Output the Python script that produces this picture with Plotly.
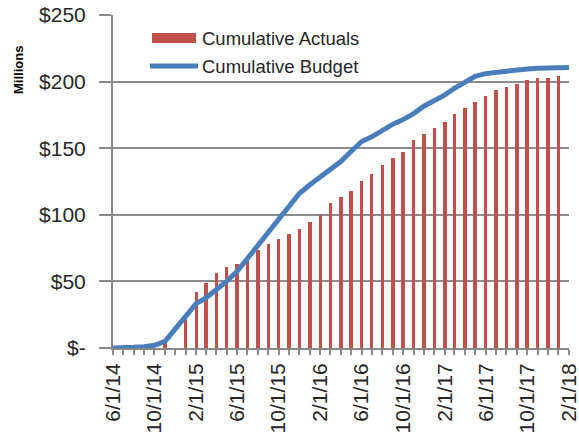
import plotly.graph_objects as go

months = ["2014-06-01","2014-07-01","2014-08-01","2014-09-01","2014-10-01","2014-11-01","2014-12-01",
          "2015-01-01","2015-02-01","2015-03-01","2015-04-01","2015-05-01","2015-06-01","2015-07-01",
          "2015-08-01","2015-09-01","2015-10-01","2015-11-01","2015-12-01","2016-01-01","2016-02-01",
          "2016-03-01","2016-04-01","2016-05-01","2016-06-01","2016-07-01","2016-08-01","2016-09-01",
          "2016-10-01","2016-11-01","2016-12-01","2017-01-01","2017-02-01","2017-03-01","2017-04-01",
          "2017-05-01","2017-06-01","2017-07-01","2017-08-01","2017-09-01","2017-10-01","2017-11-01",
          "2017-12-01","2018-01-01","2018-02-01"]

actuals = [None, None, None, None, None, 4, None,
           21.5, 42, 48.5, 56, 61, 63, 69,
           73.5, 78, 82, 85.5, 89.5, 94.5, 100,
           108.5, 113.5, 117.5, 125.5, 131, 137.5, 142.5,
           147, 156, 160.5, 165.5, 169.5, 176, 180,
           185, 189.5, 193.5, 196, 198.5, 201, 203,
           203, 204, None]

budget = [0, 0, 0.5, 1, 2, 5, 14.5,
          25, 33.5, 37.5, 43.5, 50, 57.5, 67,
          76, 86, 96, 106, 116, 122.5, 128.5,
          134, 140, 147.5, 155, 158.5, 163.5, 168,
          171.5, 176, 181.5, 185.5, 190, 195, 200,
          204, 206, 207, 208, 208.7, 209.5, 210,
          210.2, 210.7, 210.5]

x_tick_dates = months[::4]
x_tick_labels = ["6/1/14", "10/1/14", "2/1/15", "6/1/15", "10/1/15", "2/1/16",
                 "6/1/16", "10/1/16", "2/1/17", "6/1/17", "10/1/17", "2/1/18"]
y_ticks = [0, 50, 100, 150, 200, 250]
y_labels = ["$-", "$50", "$100", "$150", "$200", "$250"]

legend_names = ["Cumulative Actuals", "Cumulative Budget"]
bar_color = "#C0504D"
line_color = "#4A7EBB"

font_fam = "Liberation Sans, Arial, sans-serif"

fig = go.Figure()
fig.add_trace(go.Bar(
    x=months, y=actuals, name=legend_names[0],
    marker=dict(color=bar_color, line=dict(width=0)),
    width=0.33 * 30.4 * 86400000, showlegend=False,
))
fig.add_trace(go.Scatter(
    x=months, y=budget, name=legend_names[1], mode="lines",
    line=dict(color=line_color, width=5), showlegend=False,
))

W, H = 579, 436
L, R, T, B = 113, 10, 15, 88
pw, ph = W - L - R, H - T - B


def px_x(x):
    return (x - L) / pw


def px_y(y):
    return (H - B - y) / ph


fig.update_layout(
    width=W, height=H,
    margin=dict(l=L, r=R, t=T, b=B),
    plot_bgcolor="white", paper_bgcolor="white",
    font=dict(family=font_fam, color="#262626", size=18),
    showlegend=False,
    xaxis=dict(
        type="date", range=["2014-06-01", "2018-02-01"],
        tickmode="array", tickvals=x_tick_dates, ticktext=x_tick_labels,
        tickangle=-90, ticks="outside", ticklen=5, tickcolor="#888888", tickwidth=1.5,
        tickfont=dict(size=21, color="#262626"), ticklabeloverflow="allow",
        minor=dict(dtick="M1", tick0="2014-06-01", ticks="outside", ticklen=5,
                   tickcolor="#888888", tickwidth=1.5, showgrid=False),
        showline=True, linecolor="#888888", linewidth=2,
        showgrid=False, zeroline=False, automargin=False,
    ),
    yaxis=dict(
        range=[0, 250], tickmode="array", tickvals=y_ticks, ticktext=y_labels,
        ticks="outside", ticklen=12, tickcolor="#888888", tickwidth=1.5,
        tickfont=dict(size=21, color="#262626"), ticklabelstandoff=9,
        showgrid=True, gridcolor="#8C8C8C", gridwidth=2,
        showline=True, linecolor="#888888", linewidth=2,
        zeroline=False, automargin=False,
    ),
    bargap=0,
)

# custom legend (wide swatches as in the reference)
fig.add_shape(type="rect", xref="paper", yref="paper",
              x0=px_x(152), x1=px_x(196), y0=px_y(43), y1=px_y(33),
              fillcolor=bar_color, line=dict(width=0))
fig.add_shape(type="line", xref="paper", yref="paper",
              x0=px_x(150), x1=px_x(198), y0=px_y(66), y1=px_y(66),
              line=dict(color=line_color, width=5))
fig.add_annotation(text=legend_names[0], xref="paper", yref="paper",
                   x=px_x(200), y=px_y(38), xanchor="left", yanchor="middle",
                   showarrow=False, font=dict(size=18.5, color="#262626"))
fig.add_annotation(text=legend_names[1], xref="paper", yref="paper",
                   x=px_x(200), y=px_y(66), xanchor="left", yanchor="middle",
                   showarrow=False, font=dict(size=18.5, color="#262626"))

fig.add_annotation(
    text="<b>Millions</b>", textangle=-90, xref="paper", yref="paper",
    x=px_x(18), y=px_y(70), xanchor="center", yanchor="middle", showarrow=False,
    font=dict(size=13, color="#000000", family=font_fam),
)

fig.write_html("out.html", config={"displayModeBar": False},
               post_script="document.body.style.margin='0';")
